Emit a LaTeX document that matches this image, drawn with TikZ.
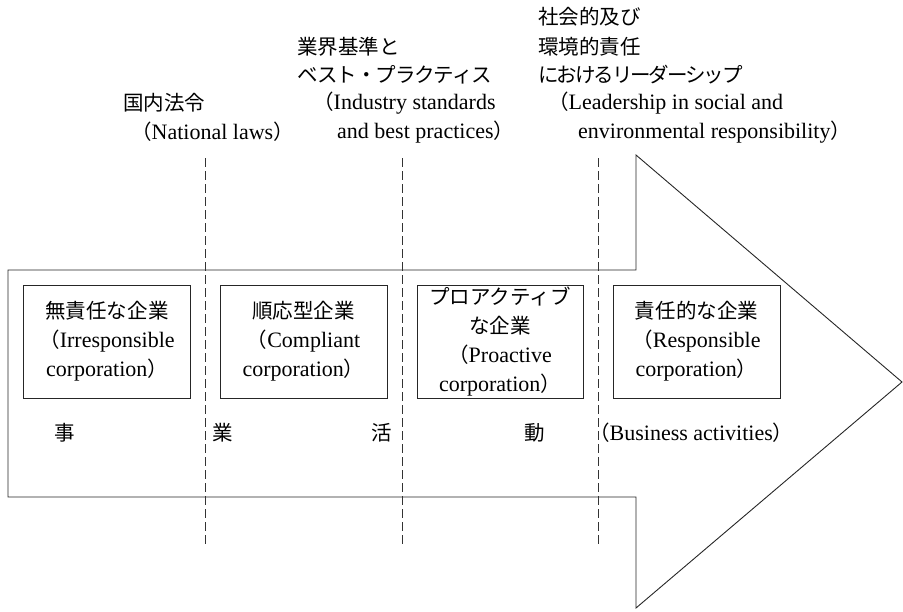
\documentclass[tikz,border=0pt]{standalone}
\usepackage{fontspec}
\setmainfont{Liberation Serif}
\newfontfamily\jp[Scale=0.932]{Noto Sans CJK JP}
\newcommand\jlp{{\jp （}}
\newcommand\jrp{{\jp ）}}
\tikzset{
  outline/.style={draw=black!85, line width=0.9pt},
  divider/.style={draw=black!80, line width=0.7pt, dash pattern=on 9pt off 4pt},
  stagebox/.style={draw=black!85, line width=0.9pt, minimum width=167pt, minimum height=113pt,
    inner sep=0pt, align=center, font=\fontsize{22}{29}\selectfont},
  lbl/.style={anchor=west, inner sep=0pt, font=\fontsize{22}{28.75}\selectfont},
  word/.style={inner sep=0pt, font=\fontsize{22}{26}\selectfont}
}
\begin{document}
\begin{tikzpicture}[x=1pt, y=-1pt]
\useasboundingbox (0,0) rectangle (903,611);
% big arrow
\draw[outline, line join=miter] (8,270) -- (636,270) -- (636,155) -- (902,382) -- (636,608) -- (636,497) -- (8,497) -- cycle;
% dividers
\foreach \x/\n in {205/a, 402/b, 598/c} {
  \coordinate (\n top) at (\x,158);
  \coordinate (\n bot) at (\x,547);
  \draw[divider] (\n top) -- (\n bot);
}
% stage boxes
\node[stagebox] (irr) at (107,341.5) {{\jp 無責任な企業}\\\jlp Irresponsible\\corporation\jrp};
\node[stagebox] (com) at (303.5,341.5) {{\jp 順応型企業}\\\jlp Compliant\\corporation\jrp};
\node[stagebox, minimum width=166pt] (pro) at (500,341.5) {{\jp プロアクティブ}\\{\jp な企業}\\\jlp Proactive\\corporation\jrp};
\node[stagebox] (res) at (696.5,341.5) {{\jp 責任的な企業}\\\jlp Responsible\\corporation\jrp};
% bottom words
\node[word] (w1) at (65,433) {\jp 事};
\node[word] (w2) at (223,433) {\jp 業};
\node[word] (w3) at (382,433) {\jp 活};
\node[word] (w4) at (535,433) {\jp 動};
\node[word, anchor=west] (w5) at (589,433) {\jlp Business activities\jrp};
% top labels
\node[lbl] (l1a) at (123,103) {\jp 国内法令};
\node[lbl] (l1b) at (131,132) {\jlp National laws\jrp};
\node[lbl] (l2a) at (297,47) {\jp 業界基準と};
\node[lbl] (l2b) at (297,75) {\jp\addfontfeature{LetterSpace=-5}ベスト・プラクティス};
\node[lbl] (l2c) at (313,103) {\jlp Industry standards};
\node[lbl] (l2d) at (337,132) {and best practices\jrp};
\node[lbl] (l3a) at (538,17) {\jp 社会的及び};
\node[lbl] (l3b) at (538,47) {\jp 環境的責任};
\node[lbl] (l3c) at (538,75) {\jp\addfontfeature{LetterSpace=-10}におけるリーダーシップ};
\node[lbl] (l3d) at (548,103) {\jlp Leadership in social and};
\node[lbl] (l3e) at (578,132) {environmental responsibility\jrp};
\end{tikzpicture}
\end{document}
